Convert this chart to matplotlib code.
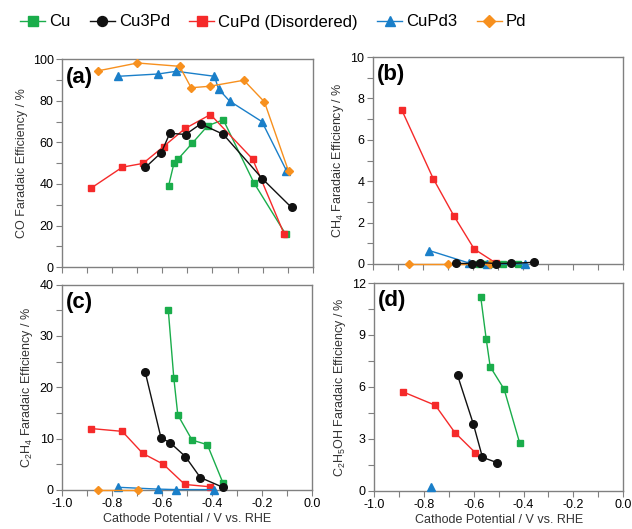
import numpy as np
import matplotlib
matplotlib.use("Agg")
from matplotlib import pyplot as plt
from matplotlib.ticker import MultipleLocator

plt.rcParams['font.family'] = ['Liberation Sans', 'DejaVu Sans']
plt.rcParams['mathtext.default'] = 'regular'

###################
# data read off   #
###################
series = ["Cu", "Cu3Pd", "CuPd (Disordered)", "CuPd3", "Pd"]
colors = ["#1aad4b", "#111111", "#f52a2a", "#1a7fc9", "#f7901e"]
markers = ["s", "o", "s", "^", "D"]
msizes = [5, 5.5, 5, 6, 4.5]

# potentials / V vs RHE
E_cu = [-0.575, -0.553, -0.537, -0.48, -0.419, -0.357, -0.235, -0.108]
E_cu3pd = [-0.667, -0.604, -0.57, -0.507, -0.447, -0.357, -0.201, -0.085]
E_cupd = [-0.884, -0.759, -0.677, -0.595, -0.509, -0.408, -0.24, -0.115]
E_cupd3 = [-0.775, -0.617, -0.544, -0.392, -0.376, -0.332, -0.203, -0.105]
E_pd = [-0.857, -0.699, -0.531, -0.485, -0.411, -0.275, -0.193, -0.097]

# (a) CO
co_cu = [39.1, 50.2, 52.0, 59.7, 68.0, 70.9, 40.6, 15.8]
co_cu3pd = [48.0, 55.1, 64.4, 63.8, 68.9, 63.9, 42.5, 28.7]
co_cupd = [38.0, 48.1, 49.9, 58.0, 66.7, 73.4, 52.0, 16.1]
co_cupd3 = [91.8, 92.9, 94.2, 91.8, 85.7, 79.9, 70.0, 46.4]
co_pd = [94.4, 98.2, 96.6, 86.3, 87.0, 89.9, 79.5, 46.2]

# (b) CH4
ch4_cu_E = [-0.575, -0.553, -0.537, -0.48, -0.419]
ch4_cu = [0.02, 0.02, 0.02, 0.02, 0.02]
ch4_cu3pd_E = [-0.667, -0.604, -0.57, -0.507, -0.447, -0.357]
ch4_cu3pd = [0.03, 0.02, 0.07, 0.02, 0.03, 0.08]
ch4_cupd_E = [-0.884, -0.759, -0.677, -0.595, -0.509]
ch4_cupd = [7.43, 4.13, 2.34, 0.72, 0.05]
ch4_cupd3_E = [-0.775, -0.617, -0.544, -0.392]
ch4_cupd3 = [0.65, 0.05, 0.0, 0.0]
ch4_pd_E = [-0.857, -0.699, -0.531]
ch4_pd = [0.0, 0.0, 0.0]

# (c) C2H4
c2h4_cu_E = [-0.575, -0.553, -0.537, -0.48, -0.419, -0.357]
c2h4_cu = [35.0, 21.8, 14.6, 9.7, 8.8, 1.4]
c2h4_cu3pd_E = [-0.667, -0.604, -0.568, -0.507, -0.447, -0.357]
c2h4_cu3pd = [22.9, 10.1, 9.2, 6.5, 2.4, 0.5]
c2h4_cupd_E = [-0.884, -0.759, -0.677, -0.595, -0.509, -0.408]
c2h4_cupd = [11.95, 11.4, 7.1, 5.0, 1.05, 0.6]
c2h4_cupd3_E = [-0.775, -0.617, -0.544, -0.392]
c2h4_cupd3 = [0.5, 0.15, 0.05, 0.05]
c2h4_pd_E = [-0.855, -0.697]
c2h4_pd = [0.0, 0.0]

# (d) C2H5OH
etoh_cu_E = [-0.572, -0.55, -0.534, -0.478, -0.416]
etoh_cu = [11.2, 8.77, 7.17, 5.87, 2.79]
etoh_cu3pd_E = [-0.665, -0.602, -0.565, -0.506]
etoh_cu3pd = [6.67, 3.88, 1.94, 1.63]
etoh_cupd_E = [-0.883, -0.754, -0.676, -0.594]
etoh_cupd = [5.71, 4.94, 3.37, 2.21]
etoh_cupd3_E = [-0.772]
etoh_cupd3 = [0.2]

panels = {
    "a": [(E_cu, co_cu), (E_cu3pd, co_cu3pd), (E_cupd, co_cupd),
          (E_cupd3, co_cupd3), (E_pd, co_pd)],
    "b": [(ch4_cu_E, ch4_cu), (ch4_cu3pd_E, ch4_cu3pd), (ch4_cupd_E, ch4_cupd),
          (ch4_cupd3_E, ch4_cupd3), (ch4_pd_E, ch4_pd)],
    "c": [(c2h4_cu_E, c2h4_cu), (c2h4_cu3pd_E, c2h4_cu3pd), (c2h4_cupd_E, c2h4_cupd),
          (c2h4_cupd3_E, c2h4_cupd3), (c2h4_pd_E, c2h4_pd)],
    "d": [(etoh_cu_E, etoh_cu), (etoh_cu3pd_E, etoh_cu3pd), (etoh_cupd_E, etoh_cupd),
          (etoh_cupd3_E, etoh_cupd3), ([], [])],
}
ylabels = {"a": "CO Faradaic Efficiency / %",
           "b": "CH$_4$ Faradaic Efficiency / %",
           "c": "C$_2$H$_4$ Faradaic Efficiency / %",
           "d": "C$_2$H$_5$OH Faradaic Efficiency / %"}
ylims = {"a": (100, 20, 10), "b": (10, 2, 1), "c": (40, 10, 5), "d": (12, 3, 1.5)}
rects = {"a": [0.098, 0.495, 0.397, 0.393],
         "b": [0.590, 0.501, 0.396, 0.391],
         "c": [0.098, 0.074, 0.396, 0.388],
         "d": [0.592, 0.072, 0.394, 0.393]}

fig = plt.figure(figsize=(6.32, 5.29), dpi=100)

handles = []
for key in ["a", "b", "c", "d"]:
    ax = fig.add_axes(rects[key])
    for i, (x, y) in enumerate(panels[key]):
        ln, = ax.plot(x, y, color=colors[i], marker=markers[i], ms=msizes[i],
                      lw=1.0, mec=colors[i], label=series[i], clip_on=False,
                      zorder=3 + (i == 1))
        if key == "a":
            handles.append(ln)
    top, major, minor = ylims[key]
    ax.set_xlim(-1.0, 0.0)
    ax.set_ylim(0, top)
    ax.xaxis.set_major_locator(MultipleLocator(0.2))
    ax.xaxis.set_minor_locator(MultipleLocator(0.1))
    ax.yaxis.set_major_locator(MultipleLocator(major))
    ax.yaxis.set_minor_locator(MultipleLocator(minor))
    ax.tick_params(which="both", direction="out", length=4, width=0.8,
                   color="#808080", labelsize=9, pad=2)
    for sp in ax.spines.values():
        sp.set_color("#808080")
        sp.set_linewidth(1.0)
    if key in ("a", "b"):
        ax.tick_params(axis="x", labelbottom=False)
    else:
        ax.set_xticks([-1.0, -0.8, -0.6, -0.4, -0.2, 0.0])
        ax.set_xticklabels(["-1.0", "-0.8", "-0.6", "-0.4", "-0.2", "0.0"])
        ax.set_xlabel("Cathode Potential / V vs. RHE", fontsize=9, labelpad=2,
                      color="#333333")
    ax.set_ylabel(ylabels[key], fontsize=9, labelpad=3, color="#333333")
    ax.text(0.015, 0.965, "(%s)" % key, transform=ax.transAxes, fontsize=16,
            fontweight="bold", va="top", ha="left")

# legend handles a little bigger than the plot markers
leg = fig.legend(handles=handles, loc="center left",
                 bbox_to_anchor=(20 / 632, 1 - 22 / 529),
                 ncol=5, frameon=False, fontsize=12, handlelength=1.5,
                 handletextpad=0.25, columnspacing=1.15, borderaxespad=0,
                 borderpad=0, markerscale=1.3)

fig.savefig("out.png", dpi=100)
